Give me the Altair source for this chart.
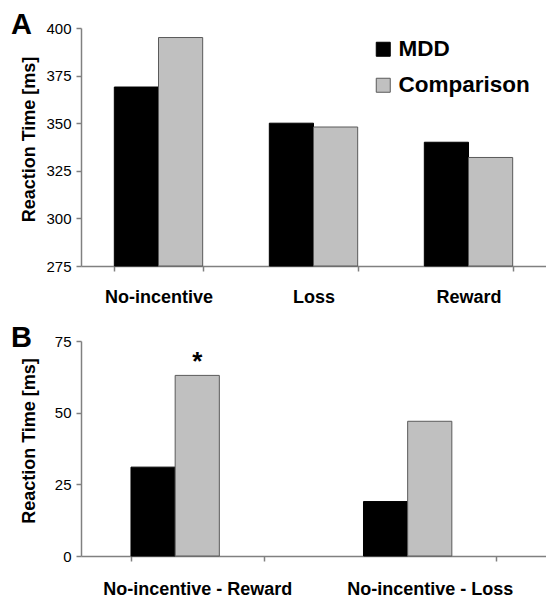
import altair as alt
import pandas as pd

groups = ["MDD", "Comparison"]
fill_colors = ["#000000", "#c0c0c0"]
stroke_colors = ["#000000", "#5a5a5a"]

categories_a = ["No-incentive", "Loss", "Reward"]
mdd_a = [369, 350, 340]
comp_a = [395, 348, 332]
y_ticks_a = [275, 300, 325, 350, 375, 400]

categories_b = ["No-incentive - Reward", "No-incentive - Loss"]
mdd_b = [31, 19]
comp_b = [63, 47]
y_ticks_b = [0, 25, 50, 75]

star_category = ["No-incentive - Reward"]
star_value = [65]
panel_labels = ["A", "B"]

FONT = "Liberation Sans"
AX_GRAY = "#808080"


def long_df(cats, mdd, comp):
    rows = []
    for c, m, k in zip(cats, mdd, comp):
        rows.append({"category": c, "group": groups[0], "value": m})
        rows.append({"category": c, "group": groups[1], "value": k})
    return pd.DataFrame(rows)


def x_enc(cats, lab_pad):
    return alt.X(
        "category:N", sort=cats,
        scale=alt.Scale(paddingInner=0.43, paddingOuter=0.215),
        axis=alt.Axis(title=None, labelAngle=0, tickBand="extent", labelLimit=0,
                      labelFontWeight="bold", labelFontSize=18, labelColor="black",
                      labelPadding=lab_pad, tickSize=5, domainColor=AX_GRAY,
                      tickColor=AX_GRAY, domainWidth=1.5, tickWidth=1.5),
    )


def y_axis(ticks, height):
    return alt.Axis(title="Reaction Time [ms]", values=ticks, grid=False,
                    labelFontSize=15, labelColor="black", labelPadding=5,
                    tickSize=5, domainColor=AX_GRAY, tickColor=AX_GRAY,
                    domainWidth=1.5, tickWidth=1.5,
                    titleFontSize=18, titleFontWeight="bold", titleColor="black",
                    titleX=-52, titleY=height / 2 - 8, titleAngle=-90,
                    titleBaseline="middle", titleAlign="center")


def panel(cats, mdd, comp, ticks, height, label, show_legend, lab_pad):
    df = long_df(cats, mdd, comp)
    legend = alt.Legend(orient="none", legendX=291, legendY=10, title=None,
                        symbolType="square", symbolSize=196, symbolStrokeWidth=1,
                        labelFontSize=22.5, labelFontWeight="bold", labelColor="black",
                        labelOffset=4, rowPadding=13) if show_legend else None
    fill_kw = dict(scale=alt.Scale(domain=groups, range=fill_colors), sort=groups)
    stroke_kw = dict(scale=alt.Scale(domain=groups, range=stroke_colors), sort=groups)
    fill_kw["legend"] = legend
    stroke_kw["legend"] = legend
    bars = alt.Chart(df).mark_bar(strokeWidth=1).encode(
        x=x_enc(cats, lab_pad),
        xOffset=alt.XOffset("group:N", sort=groups,
                            scale=alt.Scale(paddingInner=0, paddingOuter=0)),
        y=alt.Y("value:Q", scale=alt.Scale(domain=[ticks[0], ticks[-1]], zero=False, nice=False),
                axis=y_axis(ticks, height)),
        y2=alt.datum(ticks[0]),
        fill=alt.Fill("group:N", **fill_kw),
        stroke=alt.Stroke("group:N", **stroke_kw),
    )
    letter = alt.Chart(pd.DataFrame({"label": [label]})).mark_text(
        align="left", baseline="top", fontSize=29, fontWeight="bold",
        font=FONT, color="black"
    ).encode(x=alt.value(-70), y=alt.value(-17), text="label:N")
    return bars, letter


bars_a, letter_a = panel(categories_a, mdd_a, comp_a, y_ticks_a, 238, panel_labels[0], True, 17)
chart_a = alt.layer(bars_a, letter_a).properties(width=465, height=238)

bars_b, letter_b = panel(categories_b, mdd_b, comp_b, y_ticks_b, 215, panel_labels[1], False, 19)
star = alt.Chart(pd.DataFrame({"category": star_category, "value": star_value,
                               "t": ["*"]})).mark_text(
    baseline="alphabetic", fontSize=26, fontWeight="bold", font=FONT, color="black"
).encode(x=alt.X("category:N", sort=categories_b), y=alt.Y("value:Q"), text="t:N")
chart_b = alt.layer(bars_b, star, letter_b).properties(width=465, height=215)

chart = alt.vconcat(chart_a, chart_b, spacing=18).resolve_scale(
    fill="independent", stroke="independent", x="independent", y="independent"
).properties(padding={"left": 3, "top": 3, "right": 0, "bottom": 0}
).configure(font=FONT).configure_view(stroke=None)

chart.save("out.html", embed_options={"renderer": "svg", "actions": False})
